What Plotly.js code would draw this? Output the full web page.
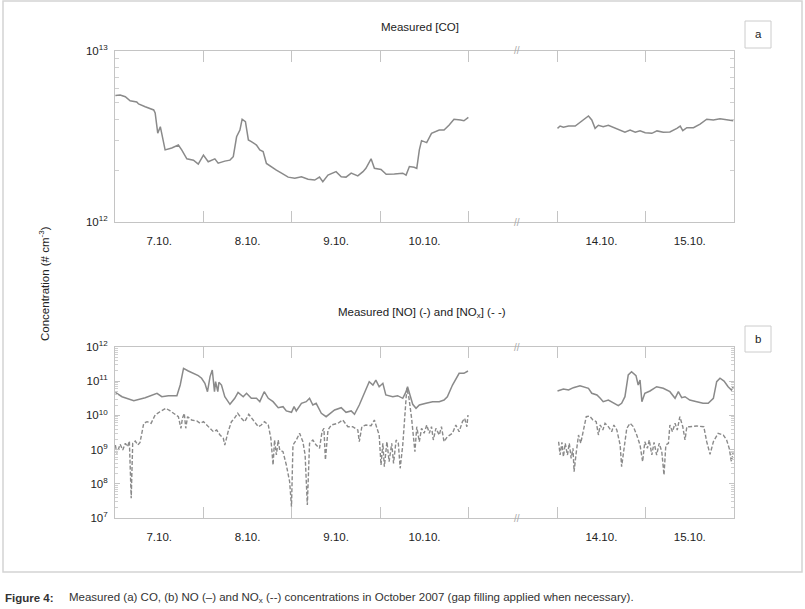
<!DOCTYPE html>
<html>
<head>
<meta charset="utf-8">
<script src="https://cdn.plot.ly/plotly-3.0.1.min.js"></script>
<style>
  html, body { margin: 0; padding: 0; background: #fff; }
  #chart { width: 805px; height: 609px; }
</style>
</head>
<body>
<div id="chart"></div>
<script>
// ---------------- DATA (hours after 7 Oct 2007 00:00) ----------------
const dayTickTimes = ['2007-10-07 12:00','2007-10-08 12:00','2007-10-09 12:00','2007-10-10 12:00','2007-10-14 12:00','2007-10-15 12:00'];
const dayLabels = ['7.10.','8.10.','9.10.','10.10.','14.10.','15.10.'];
const midnightTicks = ['2007-10-08 00:00','2007-10-09 00:00','2007-10-10 00:00','2007-10-11 00:00','2007-10-14 00:00','2007-10-15 00:00'];

// Panel a: CO
const coHoursA = [0.1,1.4,2.8,4.1,5.9,6.4,8.2,10.5,10.9,11.6,12.3,12.9,13.6,15.4,17.2,18.1,19.5,21.3,22.6,24.0,25.3,27.1,28.0,29.8,31.2,32.1,33.0,33.9,34.5,35.4,36.2,37.0,38.4,39.3,40.2,41.1,42.5,43.8,45.2,47.0,48.8,50.6,52.4,54.2,55.5,56.4,57.8,60.0,61.4,62.7,64.1,65.9,67.3,68.1,69.5,70.4,72.2,73.6,75.8,78.1,79.0,79.9,81.2,81.9,82.6,83.2,84.6,85.9,88.0,89.3,90.7,92.0,93.8,94.7,95.9];
const coValuesA = [5.5e12,5.53e12,5.4e12,5.12e12,5.03e12,4.9e12,4.72e12,4.52e12,4.34e12,3.31e12,3.61e12,3.10e12,2.64e12,2.71e12,2.82e12,2.64e12,2.34e12,2.30e12,2.18e12,2.46e12,2.25e12,2.34e12,2.21e12,2.27e12,2.30e12,2.41e12,3.15e12,3.45e12,3.99e12,3.86e12,3.02e12,2.95e12,2.82e12,2.64e12,2.58e12,2.20e12,2.09e12,2.01e12,1.93e12,1.83e12,1.80e12,1.84e12,1.78e12,1.76e12,1.83e12,1.72e12,1.88e12,1.97e12,1.84e12,1.83e12,1.93e12,1.86e12,1.97e12,2.06e12,2.34e12,2.06e12,2.03e12,1.90e12,1.91e12,1.93e12,1.88e12,2.11e12,2.09e12,2.06e12,2.64e12,2.99e12,2.91e12,3.30e12,3.45e12,3.45e12,3.69e12,3.99e12,3.95e12,3.91e12,4.09e12];
const coHoursB = [168.1,168.8,169.7,171.1,172.9,174.7,176.5,177.4,178.3,179.2,180.5,181.9,183.7,185.1,186.4,187.8,189.2,190.5,191.9,193.7,195.1,196.8,198.6,200.5,201.4,202.1,203.2,205.0,206.8,208.6,210.4,212.2,214.0,215.8];
const coValuesB = [3.53e12,3.64e12,3.58e12,3.64e12,3.64e12,3.91e12,4.17e12,3.95e12,3.53e12,3.68e12,3.61e12,3.68e12,3.53e12,3.45e12,3.35e12,3.45e12,3.35e12,3.42e12,3.33e12,3.30e12,3.41e12,3.35e12,3.36e12,3.53e12,3.64e12,3.42e12,3.56e12,3.56e12,3.74e12,3.99e12,3.95e12,4.02e12,3.95e12,3.91e12];

// Panel b: NO (solid)
const noHoursA = [0.1,1.0,1.9,5.1,8.2,11.4,12.7,14.5,16.8,17.7,18.6,19.9,21.3,22.6,23.5,24.4,25.1,25.8,26.4,27.0,27.3,27.9,28.2,28.9,29.8,31.2,32.5,33.4,34.8,35.7,37.0,38.4,39.3,40.5,41.6,42.9,44.3,45.6,46.5,47.9,48.6,49.2,50.6,51.9,52.8,53.7,54.6,56.0,57.3,58.2,59.6,61.4,62.7,64.1,65.0,66.3,67.7,69.0,70.0,70.8,71.7,72.7,73.5,75.4,76.7,78.1,79.0,79.4,79.8,80.8,81.7,82.6,84.4,86.2,88.0,89.3,90.2,91.6,93.4,94.7,95.8];
const noValuesA = [4.73e10,4.14e10,3.52e10,2.69e10,3.29e10,4.43e10,3.52e10,3.77e10,3.77e10,7.74e10,2.38e11,1.99e11,1.70e11,1.45e11,1.22e11,8.69e10,4.93e10,1.36e11,2.12e11,4.93e10,9.67e10,4.93e10,9.29e10,7.74e10,3.52e10,2.11e10,3.16e10,4.73e10,3.52e10,4.43e10,3.16e10,3.16e10,2.52e10,4.93e10,3.16e10,2.52e10,1.68e10,1.80e10,1.35e10,1.23e10,1.80e10,1.35e10,2.26e10,2.52e10,3.16e10,2.01e10,2.26e10,1.15e10,9.16e9,1.08e10,1.44e10,1.68e10,1.23e10,1.35e10,1.08e10,2.01e10,4.43e10,9.67e10,7.74e10,1.08e11,6.90e10,8.69e10,3.95e10,3.52e10,3.77e10,3.16e10,4.93e10,6.90e10,4.93e10,2.11e10,1.61e10,2.01e10,2.26e10,2.52e10,2.52e10,2.82e10,3.52e10,7.74e10,1.70e11,1.70e11,1.99e11];
const noHoursB = [168.1,169.7,171.1,172.4,174.2,175.6,176.5,177.4,178.8,179.7,180.5,181.9,183.3,184.6,185.5,186.4,187.3,188.2,189.4,190.0,190.5,191.0,191.8,193.2,195.0,196.8,198.6,200.0,200.9,201.8,202.7,204.0,205.9,207.6,209.0,210.4,211.3,212.2,213.3,214.4,215.3,215.8];
const noValuesB = [5.17e10,5.91e10,5.53e10,6.46e10,7.38e10,6.46e10,6.20e10,4.43e10,3.95e10,3.16e10,2.52e10,2.82e10,2.26e10,1.92e10,2.26e10,3.52e10,1.52e11,1.90e11,1.45e11,7.74e10,1.08e11,2.52e10,4.43e10,5.17e10,6.90e10,6.20e10,4.93e10,3.16e10,4.93e10,3.29e10,3.52e10,2.82e10,2.52e10,2.26e10,2.26e10,3.16e10,9.67e10,1.22e11,1.01e11,6.90e10,5.53e10,6.90e10];

// Panel b: NOx (dashed)
const noxHoursA = [0.1,0.5,1.4,2.1,2.8,3.4,3.9,4.4,4.8,5.5,6.2,6.8,7.8,8.7,9.8,10.9,12.2,13.8,15.0,16.3,17.2,17.9,18.3,18.8,19.2,19.7,20.8,22.2,23.1,24.0,25.3,26.7,27.6,28.5,29.4,29.8,30.7,31.6,32.4,33.3,34.3,35.2,36.3,37.5,38.9,39.7,40.6,41.6,42.3,42.9,43.3,43.8,44.3,44.7,45.6,46.5,47.4,47.9,48.3,49.2,50.1,51.0,51.6,52.2,52.8,53.7,54.6,55.5,56.2,56.7,57.1,57.8,58.7,60.5,61.8,63.2,64.5,65.9,66.3,67.0,68.1,69.5,70.4,71.1,71.7,72.2,72.7,73.1,73.8,74.4,75.1,75.6,76.3,76.9,77.4,78.1,78.7,79.2,79.8,80.5,81.4,81.9,82.6,83.2,83.9,84.6,85.3,85.9,86.4,87.1,88.0,88.6,89.3,90.2,91.6,92.5,93.4,94.3,94.9,95.5,95.8];
const noxValuesA = [1.36e9,7.80e8,1.43e9,9.73e8,1.53e9,1.22e9,1.78e9,3.77e7,1.53e9,1.78e9,1.36e9,1.63e9,5.87e9,6.55e9,5.87e9,1.03e10,1.28e10,1.61e10,1.35e10,1.08e10,9.16e9,4.20e9,8.22e9,1.15e10,4.20e9,9.16e9,7.33e9,6.86e9,5.87e9,6.55e9,4.67e9,3.34e9,3.74e9,2.67e9,2.14e9,1.36e9,3.34e9,6.55e9,8.22e9,1.15e10,8.22e9,6.55e9,1.08e10,7.33e9,4.67e9,5.24e9,6.55e9,5.24e9,2.14e9,3.55e8,1.91e9,6.95e8,1.91e9,9.73e8,8.69e8,3.55e8,1.15e8,2.14e7,1.36e9,1.91e9,3.00e9,1.70e9,6.95e8,2.40e7,1.53e9,1.91e9,1.36e9,1.09e9,3.34e9,4.20e9,4.97e8,3.74e9,5.24e9,5.87e9,7.33e9,4.67e9,4.67e9,3.74e9,1.70e9,4.67e9,5.24e9,5.00e9,7.33e9,4.20e9,2.67e9,3.55e8,1.53e9,3.16e8,1.70e9,4.43e8,1.53e9,3.97e8,1.91e9,1.53e9,2.84e8,1.36e9,1.61e10,6.20e10,3.16e10,8.22e9,8.69e8,4.67e9,1.70e9,4.20e9,3.00e9,5.24e9,3.00e9,4.67e9,1.91e9,4.20e9,2.67e9,4.67e9,1.70e9,2.38e9,3.00e9,5.24e9,3.34e9,6.55e9,8.22e9,4.67e9,1.03e10];
const noxHoursB = [168.4,168.8,169.3,169.7,170.2,170.8,171.3,171.8,172.3,172.6,173.1,173.8,174.4,175.1,175.9,176.8,177.7,178.6,179.2,179.7,180.4,181.0,181.9,182.8,183.4,184.2,185.1,185.5,186.2,186.9,187.8,188.7,189.6,190.5,191.2,191.8,192.5,193.0,193.7,194.3,195.0,195.7,196.4,197.0,197.5,198.2,198.6,199.3,200.0,200.6,201.3,202.1,202.7,203.2,204.0,205.9,207.8,208.6,209.5,210.4,211.7,213.1,214.0,214.7,215.3,215.8];
const noxValuesB = [1.70e9,6.95e8,1.63e9,6.20e8,1.53e9,6.95e8,1.53e9,5.57e8,1.09e9,2.26e8,6.95e8,2.67e9,1.53e9,3.74e9,9.16e9,9.60e9,7.33e9,6.55e9,2.67e9,5.24e9,3.74e9,5.87e9,4.67e9,3.34e9,5.24e9,3.74e9,1.36e9,3.16e8,1.09e9,4.20e9,5.87e9,4.67e9,2.67e9,1.36e9,4.43e8,1.70e9,1.09e9,1.91e9,6.95e8,1.63e9,6.95e8,1.53e9,8.69e8,1.81e8,1.36e9,1.53e9,5.24e9,3.34e9,5.87e9,3.74e9,9.16e9,4.67e9,1.91e9,4.67e9,4.67e9,4.90e9,4.67e9,1.70e9,7.29e8,1.70e9,3.00e9,2.67e9,1.91e9,1.09e9,4.43e8,8.69e8];

const coTicksVals = [1e12, 1e13];
const coTicksText = ['10<sup>12</sup>', '10<sup>13</sup>'];
const nTicksVals = [1e7, 1e8, 1e9, 1e10, 1e11, 1e12];
const nTicksText = ['10<sup>7</sup>', '10<sup>8</sup>', '10<sup>9</sup>', '10<sup>10</sup>', '10<sup>11</sup>', '10<sup>12</sup>'];

// ---------------- HELPERS ----------------
const W = 805, H = 609;
const px = x => x / W;
const py = y => 1 - y / H;
const base = Date.UTC(2007, 9, 7);
const toDate = h => new Date(base + h * 3600000).toISOString().slice(0, 16).replace('T', ' ');

const FONT = 'Liberation Sans, Arial, sans-serif';
const LINE = '#8a8a8a';
const AX = '#c4c4c4';

function minorLog(lo, hi) {
  const v = [];
  for (let d = lo; d < hi; d++) for (let k = 2; k <= 9; k++) v.push(k * Math.pow(10, d));
  return v;
}

const solid = {color: LINE, width: 1.5};
const dashed = {color: LINE, width: 1.4, dash: '4px,2px'};
function tr(hours, vals, xa, ya, line) {
  return {x: hours.map(toDate), y: vals, xaxis: xa, yaxis: ya, type: 'scatter', mode: 'lines', line: line, hoverinfo: 'skip', showlegend: false};
}

const data = [
  tr(coHoursA, coValuesA, 'x', 'y', solid),
  tr(coHoursB, coValuesB, 'x', 'y', solid),
  tr(noHoursA, noValuesA, 'x2', 'y2', solid),
  tr(noHoursB, noValuesB, 'x2', 'y2', solid),
  tr(noxHoursA, noxValuesA, 'x2', 'y2', dashed),
  tr(noxHoursB, noxValuesB, 'x2', 'y2', dashed)
];

const tickFont = {family: FONT, size: 11.5, color: '#222'};
function xAxis(anchor) {
  return {
    domain: [px(115), px(734)], anchor: anchor, type: 'date',
    range: ['2007-10-07 00:00', '2007-10-16 00:00'],
    rangebreaks: [{bounds: ['2007-10-11 12:00', '2007-10-13 12:00']}],
    showline: true, linecolor: AX, linewidth: 1, mirror: 'allticks',
    showgrid: false, zeroline: false,
    tickmode: 'array', tickvals: dayTickTimes, ticktext: dayLabels,
    ticks: '', ticklabelstandoff: 8,
    tickfont: tickFont,
    minor: {tickmode: 'array', tickvals: midnightTicks, ticks: 'inside', ticklen: 11, tickcolor: AX, tickwidth: 1, showgrid: false},
    fixedrange: true
  };
}
function yAxis(anchor, dom, range, tv, tt, minorVals, mlen) {
  return {
    domain: dom, anchor: anchor, type: 'log', range: range,
    showline: true, linecolor: AX, linewidth: 1, mirror: 'allticks',
    showgrid: false, zeroline: false,
    tickmode: 'array', tickvals: tv, ticktext: tt,
    ticks: 'inside', ticklen: 5, tickcolor: AX, ticklabelstandoff: 4,
    tickfont: tickFont,
    minor: {tickmode: 'array', tickvals: minorVals, ticks: 'inside', ticklen: mlen, tickcolor: '#d0d0d0', tickwidth: 1, showgrid: false},
    fixedrange: true
  };
}

const ann = (x, y, text, extra) => Object.assign({xref: 'paper', yref: 'paper', x: px(x), y: py(y), text: text, showarrow: false,
  xanchor: 'center', yanchor: 'middle',
  font: {family: FONT, size: 11.5, color: '#222'}}, extra || {});

const breakFont = {family: FONT, size: 10, color: '#aaaaaa'};
const capFont = {family: FONT, size: 11.5, color: '#333'};
const layout = {
  width: W, height: H,
  margin: {l: 0, r: 0, t: 0, b: 0},
  paper_bgcolor: '#fff', plot_bgcolor: '#fff',
  showlegend: false,
  font: {family: FONT, size: 11.5, color: '#222'},
  xaxis: xAxis('y'),
  xaxis2: xAxis('y2'),
  yaxis: yAxis('x', [py(222), py(51)], [12, 13], coTicksVals, coTicksText, minorLog(12, 13), 4),
  yaxis2: yAxis('x2', [py(518), py(347)], [7, 12], nTicksVals, nTicksText, minorLog(7, 12), 3),
  shapes: [
    {type: 'rect', xref: 'paper', yref: 'paper', x0: px(3), x1: px(802), y0: py(572), y1: py(1), line: {color: '#d4d4d4', width: 1.5}},
    {type: 'rect', xref: 'paper', yref: 'paper', x0: px(745), x1: px(771), y0: py(48), y1: py(21), line: {color: '#cccccc', width: 1}},
    {type: 'rect', xref: 'paper', yref: 'paper', x0: px(745), x1: px(771), y0: py(352), y1: py(326), line: {color: '#cccccc', width: 1}}
  ],
  annotations: [
    ann(420, 27, 'Measured [CO]'),
    ann(422, 313, 'Measured [NO] (-) and [NO<sub>x</sub>] (- -)'),
    ann(758, 34, 'a'),
    ann(758, 339, 'b'),
    ann(44, 284, 'Concentration (# cm<sup>-3</sup>)', {textangle: -90}),
    ann(517, 50, '//', {font: breakFont}),
    ann(517, 222, '//', {font: breakFont}),
    ann(517, 347, '//', {font: breakFont}),
    ann(517, 518, '//', {font: breakFont}),
    ann(3, 598, '<b>Figure 4:</b>', {xanchor: 'left', font: capFont}),
    ann(67, 598, 'Measured (a) CO, (b) NO (–) and NO<sub>x</sub> (--) concentrations in October 2007 (gap filling applied when necessary).', {xanchor: 'left', font: capFont})
  ]
};

Plotly.newPlot('chart', data, layout, {staticPlot: true, displayModeBar: false});
</script>
</body>
</html>
